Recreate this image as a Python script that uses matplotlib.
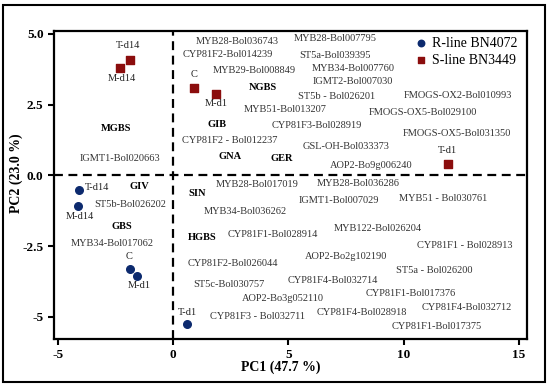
import matplotlib
matplotlib.use("Agg")
import matplotlib.pyplot as plt
from matplotlib.patches import Rectangle

plt.rcParams['font.family'] = ['Liberation Serif', 'DejaVu Serif']

# Scores: R-line (blue) and S-line (red)
r_names = ["T-d14", "M-d14", "C", "M-d1", "T-d1"]
r_pc1 = [-4.09, -4.13, -1.88, -1.57, 0.59]
r_pc2 = [-0.51, -1.08, -3.30, -3.55, -5.25]

s_names = ["T-d14", "M-d14", "C", "M-d1", "T-d1"]
s_pc1 = [-1.88, -2.31, 0.90, 1.85, 11.91]
s_pc2 = [4.08, 3.80, 3.09, 2.88, 0.41]

# Label positions of sample names (data coords)
r_lab_x = [-3.30, -4.04, -1.92, -1.48, 0.60]
r_lab_y = [-0.44, -1.47, -2.88, -3.90, -4.86]
s_lab_x = [-1.96, -2.22, 0.90, 1.89, 11.91]
s_lab_y = [4.58, 3.41, 3.55, 2.53, 0.87]

# Gene loadings text
genes = ["MYB28-Bol036743", "MYB28-Bol007795", "CYP81F2-Bol014239", "ST5a-Bol039395",
         "MYB29-Bol008849", "MYB34-Bol007760", "IGMT2-Bol007030", "ST5b - Bol026201",
         "FMOGS-OX2-Bol010993", "MYB51-Bol013207", "FMOGS-OX5-Bol029100",
         "CYP81F3-Bol028919", "FMOGS-OX5-Bol031350", "CYP81F2 - Bol012237",
         "GSL-OH-Bol033373", "AOP2-Bo9g006240", "IGMT1-Bol020663", "MYB28-Bol017019",
         "MYB28-Bol036286", "MYB51 - Bol030761", "IGMT1-Bol007029", "ST5b-Bol026202",
         "MYB34-Bol036262", "MYB122-Bol026204", "CYP81F1-Bol028914", "MYB34-Bol017062",
         "CYP81F1 - Bol028913", "AOP2-Bo2g102190", "CYP81F2-Bol026044", "ST5a - Bol026200",
         "CYP81F4-Bol032714", "ST5c-Bol030757", "CYP81F1-Bol017376", "AOP2-Bo3g052110",
         "CYP81F4-Bol032712", "CYP81F4-Bol028918", "CYP81F3 - Bol032711", "CYP81F1-Bol017375"]
gene_x = [2.76, 7.05, 2.37, 7.01, 3.54, 7.83, 7.79, 7.10, 12.34, 4.84, 10.82, 6.23, 12.30,
          2.46, 7.49, 8.57, -2.31, 3.63, 8.05, 11.73, 7.18, -1.87, 3.11, 8.87, 4.32, -2.65,
          12.64, 7.49, 2.59, 11.34, 6.92, 2.42, 10.30, 4.76, 12.73, 8.18, 3.67, 11.43]
gene_y = [4.72, 4.82, 4.26, 4.22, 3.69, 3.76, 3.30, 2.77, 2.81, 2.31, 2.21, 1.75, 1.47,
          1.22, 1.01, 0.34, 0.58, -0.34, -0.27, -0.83, -0.90, -1.04, -1.29, -1.86, -2.10,
          -2.39, -2.49, -2.88, -3.13, -3.37, -3.73, -3.84, -4.19, -4.36, -4.68, -4.86,
          -5.00, -5.35]

# Glucosinolate groups (bold)
groups = ["MGBS", "NGBS", "GIB", "GNA", "GER", "GIV", "SIN", "GBS", "HGBS"]
group_x = [-2.48, 3.89, 1.89, 2.46, 4.71, -1.48, 1.03, -2.22, 1.24]
group_y = [1.64, 3.09, 1.78, 0.65, 0.58, -0.41, -0.65, -1.82, -2.21]

blue = "#0c2a6e"
red = "#8b0d0d"

fig = plt.figure(figsize=(5.5, 3.9), dpi=100)
ax = fig.add_axes([54 / 550, 1 - 339 / 390, 473 / 550, 308 / 390])

ax.axhline(0, color="black", linestyle=(0, (4, 2.5)), linewidth=1.6, zorder=1)
ax.axvline(0, color="black", linestyle=(0, (4, 2.5)), linewidth=1.6, zorder=1)

ax.scatter(r_pc1, r_pc2, s=30, marker="o", color=blue, label="R-line BN4072", zorder=3)
ax.scatter(s_pc1, s_pc2, s=30, marker="s", color=red, label="S-line BN3449", zorder=3)

for n, x, y in zip(r_names, r_lab_x, r_lab_y):
    ax.text(x, y, n, fontsize=7.5, ha="center", va="center", color="#222222")
for n, x, y in zip(s_names, s_lab_x, s_lab_y):
    ax.text(x, y, n, fontsize=7.5, ha="center", va="center", color="#222222")
for g, x, y in zip(genes, gene_x, gene_y):
    ax.text(x, y, g, fontsize=7.5, ha="center", va="center", color="#333333")
for g, x, y in zip(groups, group_x, group_y):
    ax.text(x, y, g, fontsize=7.5, ha="center", va="center", fontweight="bold")

ax.set_xlim(-5.17, 15.35)
ax.set_ylim(-5.78, 5.1)
ax.set_xticks([-5, 0, 5, 10, 15])
ax.set_xticklabels(["-5", "0", "5", "10", "15"])
ax.set_yticks([-5, -2.5, 0, 2.5, 5])
ax.set_yticklabels(["-5", "-2.5", "0.0", "2.5", "5.0"])
ax.tick_params(width=1.5, length=4, labelsize=9.5)
for lab in ax.get_xticklabels() + ax.get_yticklabels():
    lab.set_fontweight("bold")
for sp in ax.spines.values():
    sp.set_linewidth(1.6)

ax.set_xlabel("PC1 (47.7 %)", fontsize=10, fontweight="bold")
ax.set_ylabel("PC2 (23.0 %)", fontsize=10, fontweight="bold")
ax.xaxis.set_label_coords(0.48, -0.071)
ax.yaxis.set_label_coords(-0.066, 0.539)

ax.legend(loc="upper left", bbox_to_anchor=(0.749, 1.0), frameon=False, fontsize=10,
          handlelength=1.0, handletextpad=0.3, labelspacing=0.3, borderaxespad=0.2,
          borderpad=0.2, markerscale=0.85)

fig.patches.append(Rectangle((3 / 550, 1 - 382 / 390), 542 / 550, 377 / 390,
                             transform=fig.transFigure, fill=False,
                             edgecolor="black", linewidth=1.5))

fig.savefig("out.png", dpi=100)
